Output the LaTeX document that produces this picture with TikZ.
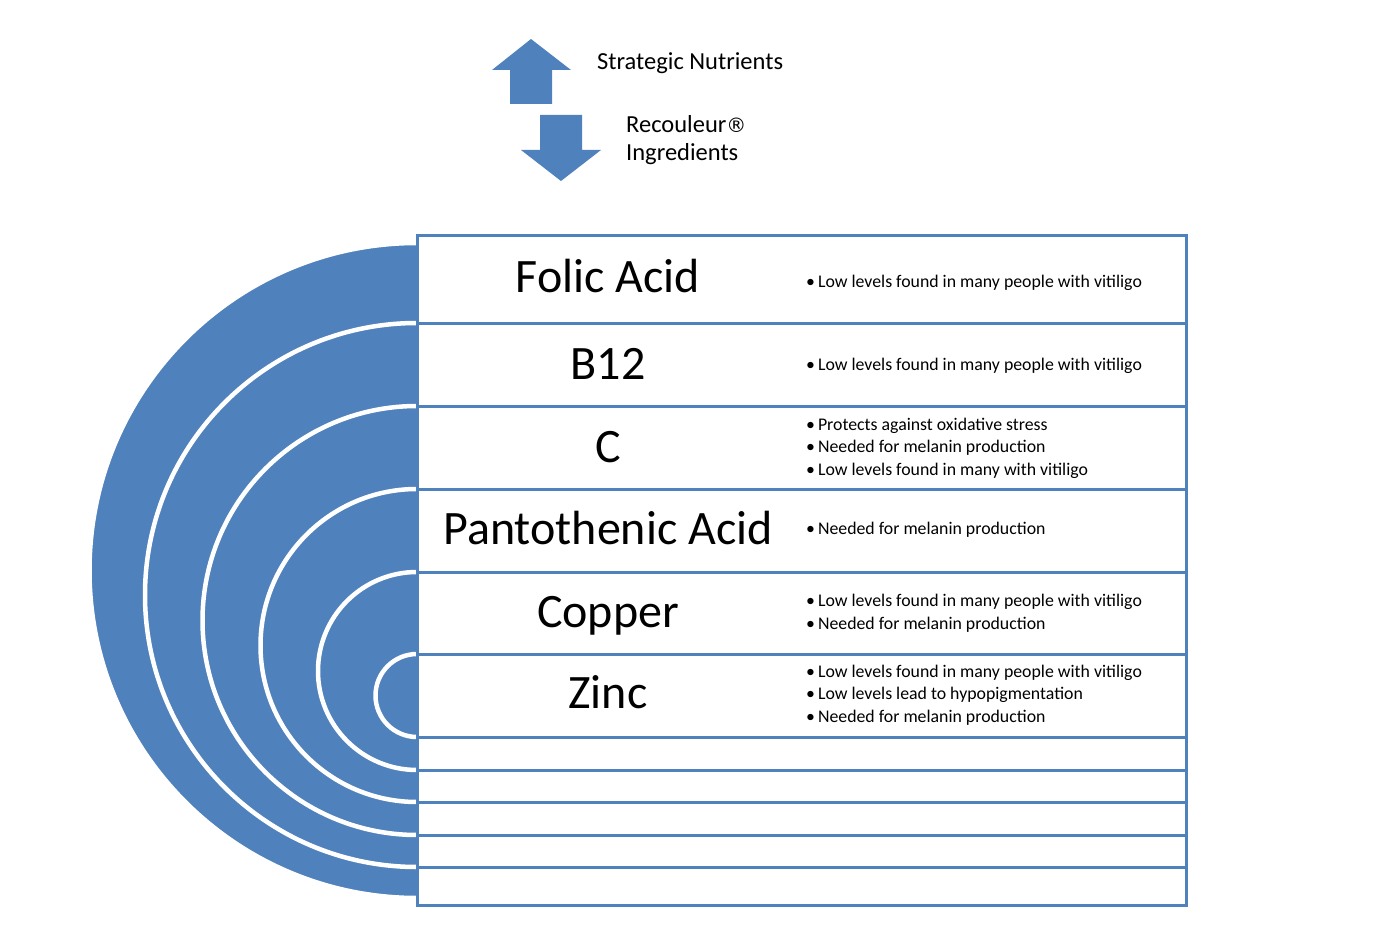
\documentclass[tikz,border=0pt]{standalone}
\usepackage{fontspec}
\setmainfont{Carlito}
\newfontfamily\regfont{DejaVu Sans}
\usetikzlibrary{positioning}
\definecolor{recblue}{HTML}{4F81BD}

\begin{document}
\begin{tikzpicture}[x=1pt, y=-1pt,
    nutrient/.style={font=\fontsize{48}{52}\selectfont, inner sep=0pt, anchor=base},
    note/.style={font=\fontsize{17.8}{22.5}\selectfont, align=left, anchor=west, inner sep=0pt},
    legend/.style={font=\fontsize{24.5}{28}\selectfont, align=left, anchor=west, inner sep=0pt},
    rowline/.style={draw=recblue, line width=3pt},
    band/.style={fill=recblue, draw=white, line width=4.5pt}]
    \useasboundingbox (0,0) rectangle (1400,928);
    % legend arrows
    \fill[recblue] (531,39) -- (571,70) -- (552,70) -- (552,104) -- (510,104) -- (510,70) -- (492,70) -- cycle;
    \fill[recblue] (540,115) -- (582,115) -- (582,150) -- (601,150) -- (561,181) -- (521,150) -- (540,150) -- cycle;
    \node[legend] (strategic) at (597,63) {Strategic Nutrients};
    \node[legend] (recouleur) at (626,140) {Recouleur{\regfont\fontsize{20}{28}\selectfont ®}\\Ingredients};
    % nested half disks
    \foreach \ya/\yb in {243/898, 323/867, 406/835, 489/802, 572/770, 654/737} {
        \pgfmathsetmacro\rad{(\yb-\ya)/2}
        \filldraw[band] (417,\ya) arc[start angle=90, end angle=270, radius=\rad pt];
    }
    % table
    \draw[rowline] (417,236) rectangle (1186,905);
    \foreach \yr in {323, 406, 489, 572, 654, 737, 770, 802, 835, 867}
        \draw[rowline] (417,\yr) -- (1186,\yr);
    \node[nutrient] (folic) at (608,292) {Folic Acid};
    \node[nutrient] (b12) at (608,379) {B12};
    \node[nutrient] (vitc) at (608,462) {C};
    \node[nutrient] (panto) at (608,544) {Pantothenic Acid};
    \node[nutrient] (copper) at (608,627) {Copper};
    \node[nutrient] (zinc) at (608,708) {Zinc};
    \node[note] (folicnote) at (806,283) {•\,Low levels found in many people with vitiligo};
    \node[note] (b12note) at (806,366) {•\,Low levels found in many people with vitiligo};
    \node[note] (vitcnote) at (806,448) {•\,Protects against oxidative stress\\•\,Needed for melanin production\\•\,Low levels found in many with vitiligo};
    \node[note] (pantonote) at (806,530) {•\,Needed for melanin production};
    \node[note] (coppernote) at (806,613) {•\,Low levels found in many people with vitiligo\\•\,Needed for melanin production};
    \node[note] (zincnote) at (806,695) {•\,Low levels found in many people with vitiligo\\•\,Low levels lead to hypopigmentation\\•\,Needed for melanin production};
\end{tikzpicture}
\end{document}
